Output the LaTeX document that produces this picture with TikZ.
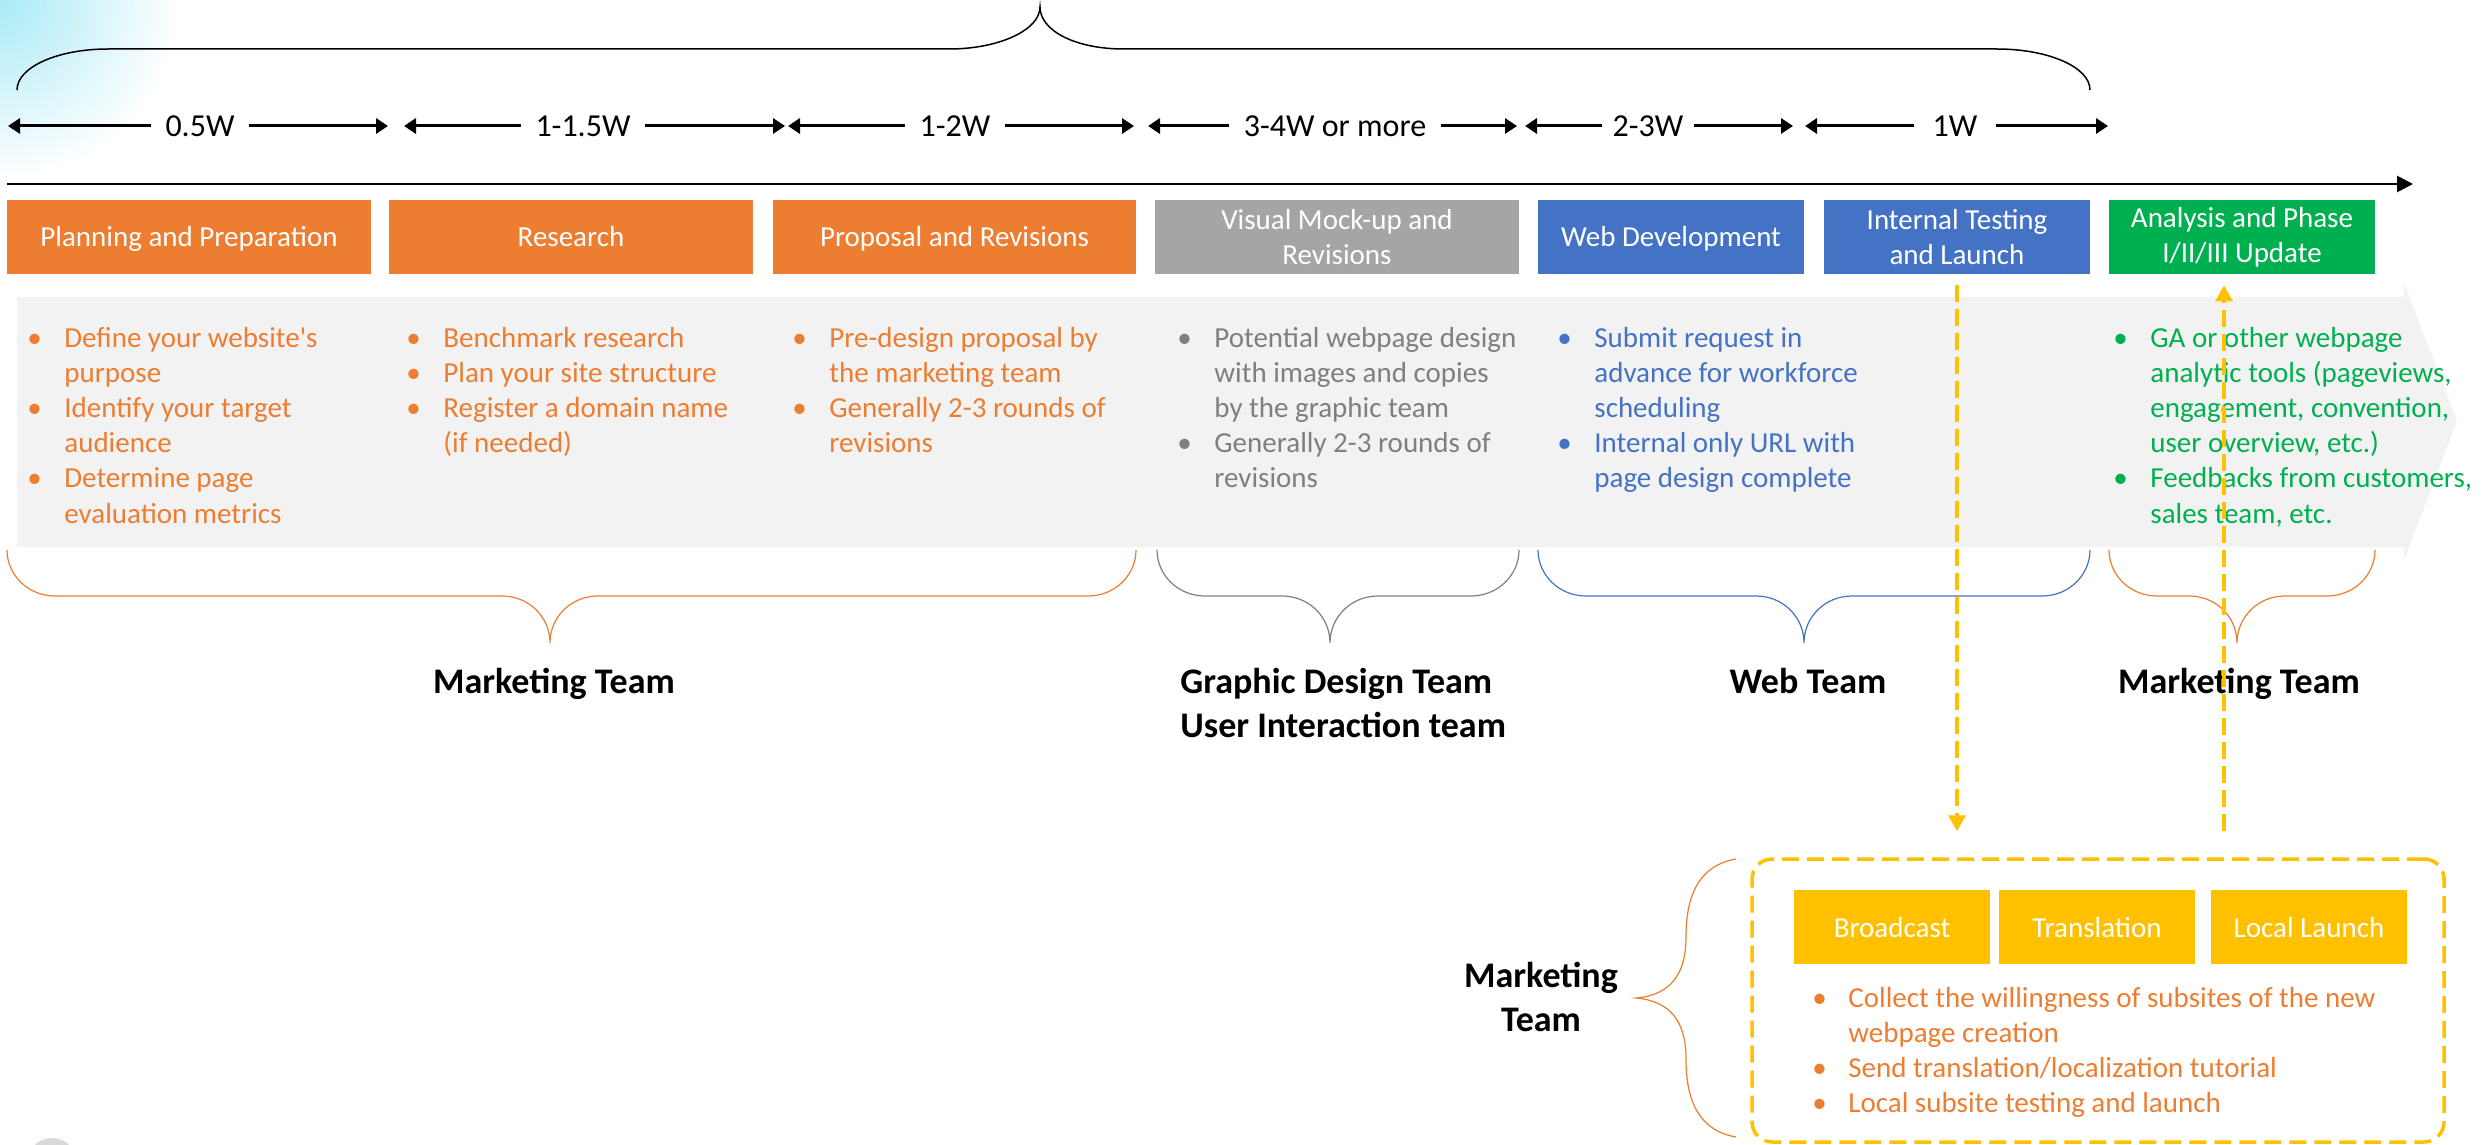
\documentclass[tikz,border=0pt]{standalone}
\usepackage{fontspec}
\setmainfont{Carlito}[Ligatures=TeXOff]
\usetikzlibrary{arrows.meta}
\definecolor{cOrange}{HTML}{ED7D31}
\definecolor{cGrayBox}{HTML}{A5A5A5}
\definecolor{cGrayTxt}{HTML}{7F7F7F}
\definecolor{cBlue}{HTML}{4472C4}
\definecolor{cGreen}{HTML}{00B050}
\definecolor{cYellow}{HTML}{FFC000}
\definecolor{cBand}{HTML}{F2F2F2}
\pgfdeclareradialshading{glowshade}{\pgfpoint{0bp}{0bp}}{rgb(0bp)=(0.66,0.92,0.97); rgb(8bp)=(0.80,0.95,0.98); rgb(20bp)=(1,1,1); rgb(50bp)=(1,1,1)}
\newcommand\bb{\makebox[18.5pt][l]{•}}
\newcommand\bbs{\makebox[18pt][l]{•}}
\newcommand\txtfont{\fontsize{14.5}{17.6}\selectfont}
\newcommand\teamfont{\fontsize{18}{22}\selectfont\bfseries}
\tikzset{
  phase/.style={inner sep=0pt, minimum height=37pt, text=white, align=center, font=\txtfont},
  oneline/.style={text height=13pt, text depth=3pt},
  ybox/.style={phase, oneline, fill=cYellow, minimum width=98pt},
  blist/.style={inner sep=0pt, anchor=base west, font=\txtfont},
  durlab/.style={inner sep=0pt, inner xsep=7pt, font=\fontsize{16}{19}\selectfont},
  durarrow/.style={line width=1.5pt, -{Triangle[width=7.5pt,length=6pt]}},
  team/.style={inner sep=0pt, font=\teamfont},
  yarrow/.style={cYellow, line width=1.6pt, dash pattern=on 8.5pt off 3.5pt, -{Triangle[width=8.5pt,length=8pt]}},
}
\newcommand\dnbrace[4]{%
  \draw[#4, line width=0.6pt] (#1,550) .. controls (#1,575) and (#1+21,596) .. (#1+48,596)
    -- (#3-48,596) .. controls (#3-21,596) and (#3,617) .. (#3,643)
    .. controls (#3,617) and (#3+21,596) .. (#3+48,596)
    -- (#2-48,596) .. controls (#2-21,596) and (#2,575) .. (#2,550);}
\begin{document}
\begin{tikzpicture}[x=0.5pt,y=-0.5pt]
\useasboundingbox (0,0) rectangle (2481,1145);
\begin{scope}
\clip (0,0) rectangle (2481,1145);
\shade[shading=glowshade] (0,0) circle (225);
\fill[black!15] (52,1163) circle (25);
\end{scope}

% top brace
\draw[line width=0.75pt] (17,90) .. controls (17,67) and (58,49) .. (108,49) -- (949,49)
  .. controls (999,49) and (1040,30) .. (1040,7)
  .. controls (1040,30) and (1074,49) .. (1124,49) -- (1997,49)
  .. controls (2048,49) and (2090,67) .. (2090,90);

% duration arrows
\coordinate (d1a) at (8,126);    \coordinate (d1b) at (388,126);
\coordinate (d2a) at (404,126);  \coordinate (d2b) at (785,126);
\coordinate (d3a) at (788,126);  \coordinate (d3b) at (1134,126);
\coordinate (d4a) at (1148,126); \coordinate (d4b) at (1517,126);
\coordinate (d5a) at (1525,126); \coordinate (d5b) at (1793,126);
\coordinate (d6a) at (1805,126); \coordinate (d6b) at (2108,126);
\node[durlab] (l1) at (200,126) {0.5W};
\node[durlab] (l2) at (583,126) {1-1.5W};
\node[durlab] (l3) at (955,126) {1-2W};
\node[durlab] (l4) at (1335,126) {3-4W or more};
\node[durlab, inner xsep=5pt] (l5) at (1648,126) {2-3W};
\node[durlab, inner xsep=9pt] (l6) at (1955,126) {1W};
\foreach \i in {1,...,6}{
  \draw[durarrow] (l\i.west) -- (d\i a);
  \draw[durarrow] (l\i.east) -- (d\i b);
}

% axis
\coordinate (ax0) at (7,184);
\coordinate (ax1) at (2413,184);
\draw[line width=1.4pt, -{Triangle[width=8pt,length=8pt]}] (ax0) -- (ax1);

% phase boxes
\node[phase, oneline, fill=cOrange, minimum width=182pt] (plan) at (189,237) {Planning and Preparation};
\node[phase, oneline, fill=cOrange, minimum width=182pt] (res) at (571,237) {Research};
\node[phase, oneline, fill=cOrange, minimum width=181.5pt] (prop) at (954.5,237) {Proposal and Revisions};
\node[phase, fill=cGrayBox, minimum width=182pt] (vis) at (1337,237) {Visual Mock-up and\\Revisions};
\node[phase, oneline, fill=cBlue, minimum width=133pt] (web) at (1671,237) {Web Development};
\node[phase, fill=cBlue, minimum width=133pt] (int) at (1957,237) {Internal Testing\\and Launch};
\node[phase, fill=cGreen, minimum width=133pt] (ana) at (2242,237) {Analysis and Phase\\I/II/III Update};

% band
\fill[cBand] (17,297) -- (2404,297) -- (2404,283) -- (2457,421) -- (2404,560) -- (2404,547) -- (17,547) -- cycle;

% bullet lists
\node[blist, text=cOrange] (c1) at (27,347) {\begin{tabular}[t]{@{}l@{}l@{}}
\bb & Define your website's\\ & purpose\\
\bb & Identify your target\\ & audience\\
\bb & Determine page\\ & evaluation metrics\end{tabular}};
\node[blist, text=cOrange] (c2) at (406,347) {\begin{tabular}[t]{@{}l@{}l@{}}
\bb & Benchmark research\\
\bb & Plan your site structure\\
\bb & Register a domain name\\ & (if needed)\end{tabular}};
\node[blist, text=cOrange] (c3) at (792,347) {\begin{tabular}[t]{@{}l@{}l@{}}
\bb & Pre-design proposal by\\ & the marketing team\\
\bb & Generally 2-3 rounds of\\ & revisions\end{tabular}};
\node[blist, text=cGrayTxt] (c4) at (1177,347) {\begin{tabular}[t]{@{}l@{}l@{}}
\bb & Potential webpage design\\ & with images and copies\\ & by the graphic team\\
\bb & Generally 2-3 rounds of\\ & revisions\end{tabular}};
\node[blist, text=cBlue] (c5) at (1557,347) {\begin{tabular}[t]{@{}l@{}l@{}}
\bb & Submit request in\\ & advance for workforce\\ & scheduling\\
\bb & Internal only URL with\\ & page design complete\end{tabular}};
\node[blist, text=cGreen] (c7) at (2113,347) {\begin{tabular}[t]{@{}l@{}l@{}}
\bb & GA or other webpage\\ & analytic tools (pageviews,\\ & engagement, convention,\\ & user overview, etc.)\\
\bb & Feedbacks from customers,\\ & sales team, etc.\end{tabular}};

% lower braces
\dnbrace{7}{1136}{550}{cOrange}
\dnbrace{1157}{1519}{1330}{cGrayTxt}
\dnbrace{1538}{2090}{1804}{cBlue}
\dnbrace{2109}{2375}{2237}{cOrange}

% team labels
\node[team, anchor=base] (t1) at (554,693) {Marketing Team};
\node[team, anchor=base west] (t2) at (1180,693) {\begin{tabular}[t]{@{}l@{}}Graphic Design Team\\User Interaction team\end{tabular}};
\node[team, anchor=base] (t3) at (1808,693) {Web Team};
\node[team, anchor=base] (t4) at (2239,693) {Marketing Team};

% lower dashed box
\node[draw=cYellow, line width=1.75pt, dash pattern=on 8.5pt off 4pt, rounded corners=10pt,
      minimum width=346pt, minimum height=141.5pt, inner sep=0pt] (mbox) at (2098,1000.5) {};
\node[ybox] (bc) at (1892,927) {Broadcast};
\node[ybox] (tr) at (2097,927) {Translation};
\node[ybox] (ll) at (2309,927) {Local Launch};
\node[blist, text=cOrange] (c8) at (1812,1007) {\begin{tabular}[t]{@{}l@{}l@{}}
\bbs & Collect the willingness of subsites of the new\\ & webpage creation\\
\bbs & Send translation/localization tutorial\\
\bbs & Local subsite testing and launch\end{tabular}};

% side brace and label
\draw[cOrange, line width=0.6pt] (1736,859) .. controls (1696,866) and (1686,900) .. (1686,937)
  .. controls (1686,975) and (1670,995) .. (1636,998)
  .. controls (1670,1001) and (1686,1021) .. (1686,1059)
  .. controls (1686,1096) and (1696,1130) .. (1736,1137);
\node[team, align=center] (t5) at (1541,997) {Marketing\\Team};

% yellow dashed arrows
\coordinate (upx) at (2224,0);
\draw[yarrow, shorten <=5.5pt, shorten >=13pt] (int.south) -- (int.south |- mbox.north);
\draw[yarrow, shorten <=13pt, shorten >=5.5pt] (upx |- mbox.north) -- (upx |- ana.south);
\end{tikzpicture}
\end{document}
